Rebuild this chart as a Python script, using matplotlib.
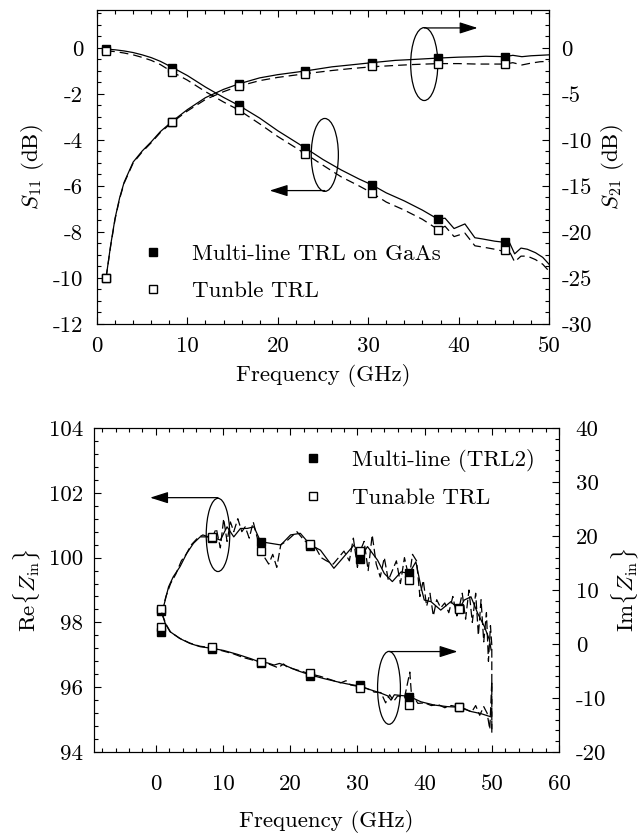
import matplotlib
matplotlib.use('Agg')
import matplotlib.pyplot as plt
from matplotlib.patches import Ellipse
from matplotlib.lines import Line2D
from matplotlib.ticker import MultipleLocator
import numpy as np

plt.rcParams['font.family'] = 'cmr10'
plt.rcParams['mathtext.fontset'] = 'cm'
plt.rcParams['axes.unicode_minus'] = False
plt.rcParams['font.size'] = 16.5

# ---- top panel: S-parameters ----
f_mk = [1.0, 8.35, 15.7, 23.05, 30.4, 37.75, 45.1]
s11_ml_mk = [-0.05, -0.85, -2.5, -4.35, -5.95, -7.45, -8.45]
s11_tu_mk = [-0.12, -1.05, -2.7, -4.6, -6.3, -7.9, -8.8]
s21_ml_mk = [-25.0, -8.0, -3.9, -2.5, -1.6, -1.1, -1.0]
s21_tu_mk = [-25.0, -8.05, -4.1, -2.8, -2.0, -1.7, -1.7]

f_s11 = [1, 2, 3, 4, 5, 6, 7, 8.35, 10, 12, 14, 15.7, 18, 20, 23.05, 25, 27, 29,
         30.4, 32, 34, 35, 36, 37.75, 38.5, 39.5, 40.7, 41.8, 42.6, 44, 45.1,
         45.5, 46.2, 46.9, 47.6, 48.5, 49.3, 50]
s11_ml = [-0.05, -0.08, -0.13, -0.2, -0.3, -0.42, -0.58, -0.85, -1.2, -1.7, -2.15,
          -2.5, -3.05, -3.6, -4.35, -4.85, -5.3, -5.7, -5.95, -6.3, -6.65, -6.85,
          -7.05, -7.45, -7.4, -7.85, -7.65, -8.25, -8.3, -8.4, -8.45, -8.35,
          -8.95, -8.7, -8.75, -8.9, -9.1, -9.4]
s11_tu = [-0.12, -0.16, -0.22, -0.3, -0.41, -0.54, -0.72, -1.05, -1.4, -1.9, -2.35,
          -2.7, -3.3, -3.85, -4.6, -5.1, -5.6, -6.0, -6.3, -6.7, -7.05, -7.25,
          -7.45, -7.9, -7.75, -8.2, -8.05, -8.6, -8.65, -8.75, -8.85, -8.75,
          -9.3, -9.05, -9.05, -9.2, -9.4, -9.7]

f_s21 = [1, 1.5, 2, 2.5, 3, 4, 5, 6, 7, 8.35, 10, 12, 14, 15.7, 18, 20, 23.05,
         26, 28, 30.4, 33, 35, 37.75, 40, 42, 43, 45.1, 46, 47, 48, 49, 50]
s21_ml = [-25, -21.5, -18.5, -16.3, -14.6, -12.4, -11.2, -10.2, -9.1, -7.95,
          -6.7, -5.4, -4.5, -3.9, -3.25, -2.9, -2.5, -2.05, -1.85, -1.6, -1.35,
          -1.25, -1.1, -1.0, -0.95, -0.9, -0.95, -0.8, -0.95, -0.85, -0.8, -0.75]
s21_tu = [-25, -21.6, -18.6, -16.4, -14.7, -12.5, -11.3, -10.3, -9.2, -8.05,
          -6.85, -5.6, -4.75, -4.15, -3.55, -3.2, -2.8, -2.45, -2.25, -2.05, -1.9,
          -1.8, -1.7, -1.7, -1.75, -1.75, -1.75, -1.6, -1.85, -1.65, -1.5, -1.45]

# ---- bottom panel: input impedance ----
f_mk2 = [0.8, 8.35, 15.6, 22.9, 30.4, 37.7, 45.1]
re_ml_mk = [98.35, 100.6, 100.49, 100.37, 99.95, 99.53, 98.45]
re_tu_mk = [98.4, 100.63, 100.2, 100.42, 100.2, 99.31, 98.41]
im_ml_mk = [2.3, -0.9, -3.6, -6.0, -7.6, -9.8, -11.6]
im_tu_mk = [3.1, -0.6, -3.3, -5.4, -8.2, -11.3, -11.7]

f_re = [0.9, 1.4, 1.9, 2.6, 3.6, 4.6, 5.6, 6.6, 8.35, 9.6, 10.6, 11.6, 12.6,
        13.6, 14.6, 15.6, 17.1, 18.6, 20.05, 21.5, 23.0, 24.5, 26.5, 28.0, 29.5,
        30.4, 31.5, 33.0, 34.0, 35.2, 36.5, 37.7, 38.7, 39.45, 39.95, 40.95,
        42.4, 43.9, 45.1, 45.9, 46.9, 47.9, 48.9, 49.65, 49.9]
re_ml = [98.28, 98.69, 99.1, 99.41, 99.72, 100.13, 100.44, 100.64, 100.64,
         100.54, 100.95, 100.64, 100.9, 100.9, 100.95, 100.49, 100.44, 100.39,
         100.7, 100.75, 100.39, 100.23, 99.67, 100.03, 100.39, 99.98, 100.34,
         99.92, 99.51, 99.26, 99.56, 99.51, 99.87, 99.1, 98.69, 98.64, 98.38,
         98.64, 98.4, 98.69, 98.79, 98.28, 97.87, 97.46, 97.15]

f_re_tu = [0.9, 1.5, 2.2, 3.0, 3.8, 4.5, 5.3, 6.2, 7.0, 8.35, 9.0, 9.6, 10.1,
           10.6, 11.1, 11.6, 12.2, 12.8, 13.3, 13.9, 14.5, 15.6, 16.2, 16.8,
           17.4, 18.0, 18.6, 19.4, 20.2, 21.0, 21.8, 23.0, 23.8, 24.6, 25.4,
           26.4, 27.2, 28.0, 28.8, 29.4, 30.0, 30.4, 31.0, 31.6, 32.2, 32.8,
           33.4, 34.0, 34.6, 35.2, 35.8, 36.4, 37.0, 37.7, 38.2, 38.8, 39.3,
           39.8, 40.3, 40.8, 41.3, 41.8, 42.4, 43.0, 43.6, 44.2, 44.8, 45.1,
           45.6, 46.1, 46.6, 47.1, 47.6, 48.0, 48.4, 48.8, 49.2, 49.5, 49.8,
           50.0, 50.0]
re_tu = [98.28, 98.8, 99.2, 99.5, 99.9, 100.1, 100.4, 100.6, 100.7, 100.6,
         100.9, 100.3, 101.2, 100.5, 101.1, 100.8, 101.2, 100.8, 100.95, 100.6,
         101.1, 100.2, 100.0, 99.8, 100.1, 99.7, 100.4, 100.5, 100.65, 100.8,
         100.6, 100.35, 100.3, 100.0, 99.9, 99.8, 100.0, 100.2, 99.9, 100.6,
         99.7, 100.2, 100.5, 99.6, 100.7, 99.8, 99.4, 100.0, 99.3, 99.6, 99.9,
         99.2, 100.0, 99.35, 100.1, 99.9, 98.8, 99.3, 98.5, 98.9, 98.2, 98.7,
         98.45, 98.6, 98.3, 98.8, 98.2, 98.41, 98.9, 98.1, 99.0, 98.0, 98.9,
         97.6, 98.7, 97.4, 98.3, 96.8, 97.9, 97.3, 94.5]

f_im = [0.9, 1.4, 2.1, 3.6, 5.1, 6.6, 8.35, 10.1, 12.1, 14.1, 15.6, 16.6, 17.6,
        18.4, 19.1, 21.0, 22.9, 25.0, 27.0, 28.5, 30.4, 32.0, 33.5, 34.5, 35.0,
        35.5, 37.7, 39.45, 41.4, 43.4, 45.1, 46.9, 48.4, 49.9]
im_ml = [5.7, 3.8, 2.3, 1.0, 0.1, -0.5, -0.8, -1.2, -1.9, -2.7, -3.4, -3.5,
         -3.9, -3.6, -3.9, -4.9, -5.7, -6.4, -7.0, -7.4, -7.8, -8.5, -9.1, -9.6,
         -10.4, -9.4, -9.7, -10.7, -11.3, -11.6, -11.7, -12.5, -12.9, -13.5]

f_im_tu = [0.9, 1.5, 2.2, 3.5, 5.0, 6.5, 8.35, 10.0, 11.5, 13.0, 14.5, 15.6,
           17.0, 18.2, 19.0, 19.6, 21.0, 22.9, 24.5, 26.0, 27.5, 28.3, 29.0,
           30.4, 31.5, 32.5, 33.5, 34.2, 34.8, 35.4, 36.0, 37.0, 37.8, 38.1,
           38.4, 39.0, 40.0, 41.0, 42.0, 43.0, 44.0, 45.1, 46.0, 47.0, 47.6,
           48.2, 48.8, 49.3, 49.7, 50.0, 50.0]
im_tu = [5.7, 3.7, 2.2, 1.1, 0.2, -0.4, -0.7, -1.3, -1.8, -2.5, -3.0, -3.3,
         -3.8, -4.4, -3.7, -4.3, -4.8, -5.5, -6.0, -6.6, -7.2, -6.8, -7.6,
         -7.9, -8.3, -8.9, -9.0, -10.9, -9.4, -10.6, -9.6, -10.0, -5.2, -10.4,
         -9.8, -11.0, -10.9, -11.4, -11.2, -11.8, -11.4, -11.7, -12.0, -12.6,
         -11.4, -13.2, -11.6, -12.8, -15.8, -6.8, -16.2]

fig = plt.figure(figsize=(6.42, 8.38), dpi=100)

ms = 6
mk_ml = dict(ls='none', marker='s', ms=ms, mfc='k', mec='k', mew=1)
mk_tu = dict(ls='none', marker='s', ms=ms, mfc='white', mec='k', mew=1)
arrow = dict(arrowstyle='-|>,head_length=1.1,head_width=0.35', color='k',
             lw=0.9, shrinkA=0, shrinkB=0, mutation_scale=10)


def style_ticks(a, pad):
    a.tick_params(which='both', direction='in', width=0.8, pad=pad)
    a.tick_params(which='major', length=5)
    a.tick_params(which='minor', length=3)


# top axes
ax = fig.add_axes([97 / 642, 1 - 324 / 838, 452 / 642, 314 / 838])
ax2 = ax.twinx()
ax.plot(f_s11, s11_ml, 'k-', lw=0.9)
ax.plot(f_s11, s11_tu, 'k-', lw=0.9, dashes=(7, 4))
ax.plot(f_mk, s11_ml_mk, **mk_ml)
ax.plot(f_mk, s11_tu_mk, **mk_tu)
ax2.plot(f_s21, s21_ml, 'k-', lw=0.9)
ax2.plot(f_s21, s21_tu, 'k-', lw=0.9, dashes=(7, 4))
ax2.plot(f_mk, s21_ml_mk, **mk_ml)
ax2.plot(f_mk, s21_tu_mk, **mk_tu)

ax.set_xlim(0, 50)
ax.set_ylim(-12, 1.65)
ax2.set_ylim(-30, 4.125)
ax.xaxis.set_major_locator(MultipleLocator(10))
ax.xaxis.set_minor_locator(MultipleLocator(2))
ax.yaxis.set_major_locator(MultipleLocator(2))
ax.yaxis.set_minor_locator(MultipleLocator(0.5))
ax2.yaxis.set_major_locator(MultipleLocator(5))
ax2.yaxis.set_minor_locator(MultipleLocator(1.25))
style_ticks(ax, 10)
ax.tick_params(which='both', top=True)
ax.tick_params(axis='x', pad=9)
style_ticks(ax2, 9)
ax.set_xlabel('Frequency (GHz)', labelpad=6)
ax.set_ylabel(r'$S_{11}$ (dB)', labelpad=5)
ax2.set_ylabel(r'$S_{21}$ (dB)', labelpad=5)

ax.add_patch(Ellipse((25.2, -4.65), 3.0, 3.17, fill=False, lw=0.9))
ax.annotate('', xy=(19.1, -6.2), xytext=(25.2, -6.2), arrowprops=arrow)
ax.add_patch(Ellipse((36.2, -0.7), 3.0, 3.17, fill=False, lw=0.9))
ax.annotate('', xy=(42.1, 0.87), xytext=(36.2, 0.87), arrowprops=arrow)

h = [Line2D([], [], **mk_ml), Line2D([], [], **mk_tu)]
ax2.legend(h, ['Multi-line TRL on GaAs', 'Tunble TRL'], loc='center left',
           bbox_to_anchor=(0.098, 0.164), frameon=False, borderpad=0,
           handlelength=1.0, handletextpad=1.2, labelspacing=0.7,
           borderaxespad=0)

# bottom axes
bx = fig.add_axes([94 / 642, 1 - 752 / 838, 465 / 642, 324 / 838])
bx2 = bx.twinx()
bx.plot(f_re, re_ml, 'k-', lw=0.9)
bx.plot(f_re_tu, re_tu, 'k-', lw=0.9, dashes=(7, 3))
bx2.plot(f_im, im_ml, 'k-', lw=0.9)
bx2.plot(f_im_tu, im_tu, 'k-', lw=0.9, dashes=(7, 3))
bx.plot(f_mk2, re_ml_mk, **mk_ml)
bx.plot(f_mk2, re_tu_mk, **mk_tu)
bx2.plot(f_mk2, im_ml_mk, **mk_ml)
bx2.plot(f_mk2, im_tu_mk, **mk_tu)

bx.set_xlim(-9.2, 60)
bx.set_ylim(94, 104)
bx2.set_ylim(-20, 40)
bx.xaxis.set_major_locator(MultipleLocator(10))
bx.xaxis.set_minor_locator(MultipleLocator(2))
bx.yaxis.set_major_locator(MultipleLocator(2))
bx.yaxis.set_minor_locator(MultipleLocator(0.4))
bx2.yaxis.set_major_locator(MultipleLocator(10))
bx2.yaxis.set_minor_locator(MultipleLocator(2))
style_ticks(bx, 8)
bx.tick_params(which='both', top=True)
bx.tick_params(axis='x', pad=16)
style_ticks(bx2, 12)
bx.set_xlabel('Frequency (GHz)', labelpad=12)
bx.set_ylabel(r'Re$\{Z_{\rm in}\}$', labelpad=5)
bx2.set_ylabel(r'Im$\{Z_{\rm in}\}$', labelpad=2)

bx.add_patch(Ellipse((9.25, 100.7), 3.5, 2.26, fill=False, lw=0.9))
bx.annotate('', xy=(-0.85, 101.85), xytext=(9.25, 101.85), arrowprops=arrow)
bx.add_patch(Ellipse((34.7, 95.98), 3.4, 2.25, fill=False, lw=0.9))
bx.annotate('', xy=(44.9, 97.1), xytext=(34.7, 97.1), arrowprops=arrow)

bx2.legend(h, ['Multi-line (TRL2)', 'Tunable TRL'], loc='center left',
           bbox_to_anchor=(0.446, 0.843), frameon=False, borderpad=0,
           handlelength=1.0, handletextpad=1.21, labelspacing=0.7,
           borderaxespad=0)

fig.savefig('out.png', dpi=100)
